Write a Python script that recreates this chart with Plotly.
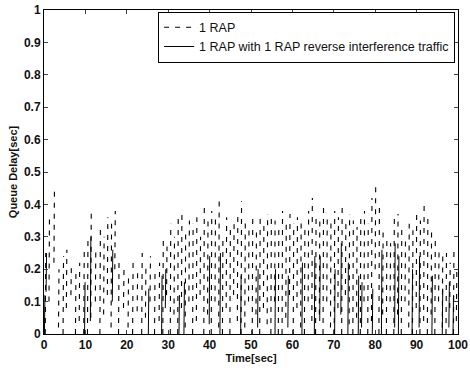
import plotly.graph_objects as go

# Series 1: "1 RAP" (dashed) -- burst times, burst start value, burst peak value
times_a = [0.3,1.2,2.4,3.5,4.6,5.4,6.5,7.6,8.5,9.6,
           10.5,11.3,12.4,13.5,14.4,15.3,16.2,17.1,18.0,19.2,
           20.3,21.4,22.5,23.6,24.5,25.6,26.7,27.8,28.7,29.6,
           30.5,31.4,32.3,33.2,34.1,35.0,35.9,36.8,37.7,38.6,
           39.5,40.4,41.3,42.2,43.1,44.0,44.9,45.8,46.7,47.6,
           48.5,49.4,50.3,51.2,52.1,53.0,53.9,54.8,55.7,56.6,
           57.5,58.4,59.3,60.2,61.1,62.0,62.9,63.8,64.7,65.6,
           66.5,67.4,68.3,69.2,70.1,71.0,71.9,72.8,73.7,74.6,
           75.5,76.4,77.3,78.2,79.1,80.0,80.9,81.8,82.7,83.6,
           84.5,85.4,86.3,87.2,88.1,89.0,89.9,90.8,91.7,92.6,
           93.5,94.4,95.3,96.2,97.1,98.0,98.9,99.6]
peak_a = [0.25,0.36,0.44,0.20,0.24,0.26,0.22,0.20,0.22,0.26,
          0.30,0.39,0.27,0.33,0.30,0.36,0.34,0.38,0.22,0.20,
          0.18,0.22,0.20,0.25,0.22,0.24,0.20,0.22,0.30,0.27,
          0.34,0.30,0.36,0.38,0.32,0.35,0.34,0.36,0.30,0.39,
          0.36,0.38,0.37,0.41,0.30,0.36,0.33,0.35,0.38,0.41,
          0.35,0.33,0.36,0.33,0.37,0.35,0.37,0.36,0.35,0.33,
          0.38,0.35,0.37,0.34,0.36,0.35,0.33,0.38,0.42,0.36,
          0.35,0.39,0.37,0.35,0.38,0.36,0.39,0.34,0.37,0.35,
          0.33,0.36,0.38,0.34,0.42,0.46,0.40,0.33,0.30,0.28,
          0.36,0.37,0.33,0.30,0.34,0.32,0.38,0.35,0.40,0.36,
          0.33,0.30,0.26,0.24,0.25,0.22,0.26,0.20]
low_a = [0.00,0.10,0.22,0.02,0.00,0.08,0.12,0.00,0.04,0.00,
         0.00,0.05,0.10,0.00,0.06,0.12,0.02,0.20,0.00,0.08,
         0.02,0.00,0.07,0.00,0.05,0.10,0.00,0.04,0.00,0.12,
         0.00,0.06,0.00,0.08,0.02,0.10,0.00,0.04,0.12,0.00,
         0.06,0.00,0.10,0.02,0.00,0.08,0.00,0.12,0.04,0.00,
         0.02,0.10,0.00,0.06,0.00,0.08,0.03,0.00,0.10,0.00,
         0.00,0.05,0.12,0.00,0.08,0.02,0.00,0.10,0.04,0.00,
         0.06,0.00,0.10,0.02,0.00,0.08,0.00,0.12,0.03,0.00,
         0.05,0.00,0.10,0.00,0.04,0.20,0.00,0.06,0.00,0.10,
         0.00,0.06,0.00,0.10,0.02,0.00,0.08,0.00,0.04,0.00,
         0.06,0.00,0.10,0.02,0.00,0.08,0.00,0.04]

# Series 2: "1 RAP with 1 RAP reverse interference traffic" (solid, sparser)
times_b = [0.1,0.5,9.8,11.2,16.5,25.2,28.4,29.3,32.6,33.8,
           39.9,42.5,47.5,51.6,55.8,58.9,62.3,65.3,66.6,70.2,
           71.7,73.4,75.9,76.7,79.3,81.5,84.7,85.6,88.9,90.6,
           93.7,96.2,97.8,98.8]
peak_b = [0.12,0.25,0.16,0.30,0.26,0.14,0.18,0.20,0.12,0.16,
          0.24,0.25,0.18,0.20,0.20,0.18,0.22,0.24,0.24,0.20,
          0.28,0.22,0.18,0.16,0.14,0.26,0.28,0.24,0.20,0.24,
          0.18,0.14,0.16,0.12]
low_b = [0.00,0.13,0.00,0.04,0.10,0.00,0.00,0.08,0.00,0.00,
         0.03,0.00,0.00,0.02,0.00,0.02,0.00,0.00,0.04,0.00,
         0.06,0.00,0.00,0.02,0.00,0.00,0.02,0.00,0.00,0.02,
         0.00,0.00,0.02,0.00]

x_ticks = [0, 10, 20, 30, 40, 50, 60, 70, 80, 90, 100]
y_ticks = [0, 0.1, 0.2, 0.3, 0.4, 0.5, 0.6, 0.7, 0.8, 0.9, 1]
y_tick_text = ["0", "0.1", "0.2", "0.3", "0.4", "0.5", "0.6", "0.7", "0.8", "0.9", "1"]


def bursts(times, lows, peaks):
    xs, ys = [], []
    for t, lo, hi in zip(times, lows, peaks):
        xs += [t, t + 0.12, None]
        ys += [lo, hi, None]
    return xs, ys


xa, ya = bursts(times_a, low_a, peak_a)
xb, yb = bursts(times_b, low_b, peak_b)

fig = go.Figure()
fig.add_trace(go.Scatter(x=xa, y=ya, mode="lines", name="1 RAP",
                         line=dict(color="black", width=1.1, dash="5px,6px"),
                         connectgaps=False))
fig.add_trace(go.Scatter(x=xb, y=yb, mode="lines",
                         name="1 RAP with 1 RAP reverse interference traffic",
                         line=dict(color="black", width=1.0),
                         connectgaps=False))

font_family = "Liberation Sans, Arial, sans-serif"
tick_font = dict(size=12, family=font_family, color="#111", weight="bold")
title_font = dict(size=11, family=font_family, color="#111", weight="bold")
fig.update_layout(
    width=470, height=372,
    margin=dict(l=44, r=12, t=10, b=38, autoexpand=False),
    paper_bgcolor="white", plot_bgcolor="white",
    font=dict(family=font_family, size=11, color="#111"),
    showlegend=True,
    legend=dict(x=0.993, y=0.995, xanchor="right", yanchor="top",
                bgcolor="white", bordercolor="black", borderwidth=1,
                font=dict(size=12.5, family=font_family, color="#111"),
                tracegroupgap=0, itemwidth=30),
)
fig.update_xaxes(range=[0, 100], tickvals=x_ticks, ticks="inside", ticklen=4,
                 showline=True, linecolor="black", linewidth=1, mirror="ticks",
                 showgrid=False, zeroline=False, automargin=False,
                 tickfont=tick_font,
                 title=dict(text="Time[sec]", standoff=2, font=title_font))
fig.update_yaxes(range=[0, 1], tickvals=y_ticks, ticktext=y_tick_text,
                 ticks="inside", ticklen=4,
                 showline=True, linecolor="black", linewidth=1, mirror="ticks",
                 showgrid=False, zeroline=False, automargin=False,
                 tickfont=tick_font,
                 title=dict(text="Queue Delay[sec]", standoff=4, font=title_font))

fig.write_html("out.html", config={"displayModeBar": False},
               post_script="document.body.style.margin='0px';document.body.style.overflow='hidden';")
